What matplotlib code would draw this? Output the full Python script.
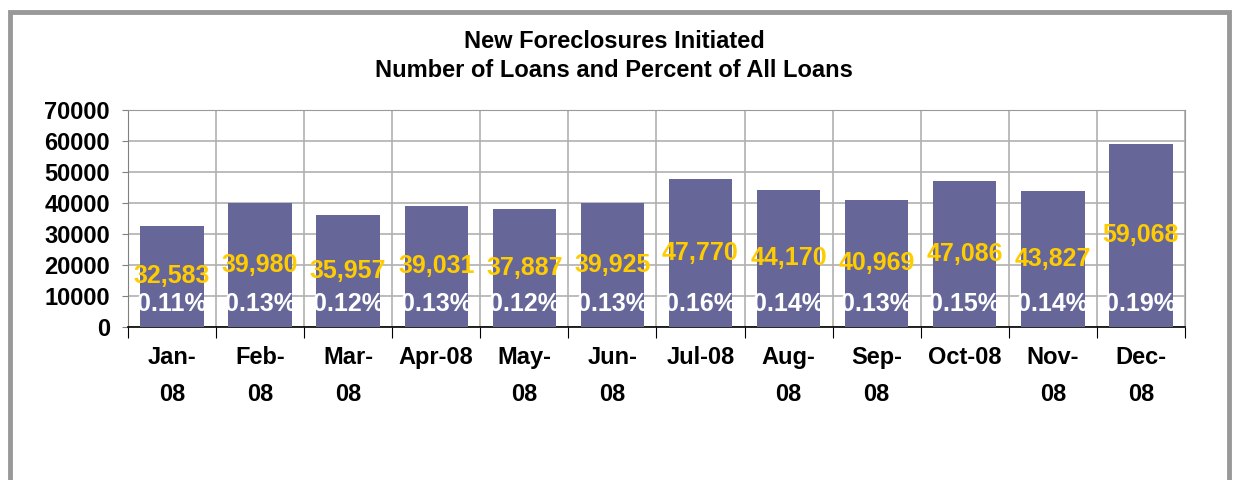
import matplotlib.pyplot as plt
import numpy as np
from matplotlib.patches import Rectangle

months = ['Jan-\n08', 'Feb-\n08', 'Mar-\n08', 'Apr-08', 'May-\n08', 'Jun-\n08',
          'Jul-08', 'Aug-\n08', 'Sep-\n08', 'Oct-08', 'Nov-\n08', 'Dec-\n08']
loans = [32583, 39980, 35957, 39031, 37887, 39925, 47770, 44170, 40969, 47086, 43827, 59068]
pct = [0.11, 0.13, 0.12, 0.13, 0.12, 0.13, 0.16, 0.14, 0.13, 0.15, 0.14, 0.19]

plt.rcParams['font.family'] = ['Liberation Sans', 'DejaVu Sans']
plt.rcParams['font.weight'] = 'bold'

fig = plt.figure(figsize=(12.33, 4.8), dpi=100)
ax = fig.add_axes([0.1038, 0.319, 0.8572, 0.452])

# grey frame around the chart
fig.patches.append(Rectangle((10 / 1233, -0.05), 1219 / 1233, 1.05 - 12 / 480,
                             transform=fig.transFigure, fill=False,
                             edgecolor='#999999', linewidth=3.5))

x = np.arange(len(loans))
ax.bar(x, loans, width=0.72, color='#666699', zorder=3)

for xi, v, p in zip(x, loans, pct):
    ax.text(xi, v / 2, f'{v:,}', ha='center', va='center', color='#FFCC00',
            fontsize=18, fontweight='bold', zorder=4)
    ax.text(xi, 7500, f'{p:.2f}%', ha='center', va='center', color='white',
            fontsize=18, fontweight='bold', zorder=4)

ax.set_xlim(-0.5, len(loans) - 0.5)
ax.set_ylim(0, 70000)
ax.set_yticks(range(0, 70001, 10000))
ax.tick_params(axis='y', labelsize=17, length=4, color='#808080', pad=9)

# category boundaries for ticks and vertical gridlines
ax.set_xticks(np.arange(-0.5, len(loans)), minor=False)
ax.set_xticklabels([])
ax.set_xticks(x, minor=True)
ax.set_xticklabels(months, minor=True, fontsize=17, linespacing=1.75)
ax.tick_params(axis='x', which='major', length=8, color='black', direction='out')
ax.tick_params(axis='x', which='minor', length=0, pad=14)
for lbl in ax.get_yticklabels() + ax.get_xticklabels(minor=True):
    lbl.set_fontweight('bold')

ax.grid(True, which='major', color='#b0b0b0', linewidth=1.2, zorder=0)
for s in ['top', 'right', 'left']:
    ax.spines[s].set_color('#999999')
ax.spines['left'].set_color('#808080')
ax.spines['bottom'].set_color('black')
ax.spines['bottom'].set_linewidth(1.2)

fig.text(0.498, 0.884, 'New Foreclosures Initiated\nNumber of Loans and Percent of All Loans',
         ha='center', va='center', fontsize=17, fontweight='bold', linespacing=1.35)

plt.savefig('out.png', dpi=100)
